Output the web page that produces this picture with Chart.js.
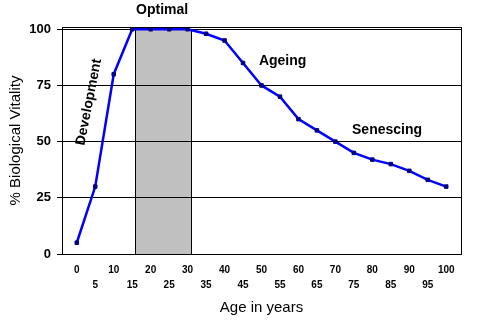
<!DOCTYPE html>
<html>
<head>
<meta charset="utf-8">
<script src="https://cdn.jsdelivr.net/npm/chart.js@4/dist/chart.umd.min.js"></script>
<style>
  html, body { margin: 0; padding: 0; background: #fff; }
  #wrap { width: 491px; height: 325px; }
</style>
</head>
<body>
<div id="wrap"><canvas id="chart" width="491" height="325"></canvas></div>
<script>
// ages (x) and vitality (%)
const ages = [0, 5, 10, 15, 20, 25, 30, 35, 40, 45, 50, 55, 60, 65, 70, 75, 80, 85, 90, 95, 100];
const vitality = [5, 30, 80, 100, 100, 100, 100, 98, 95, 85, 75, 70, 60, 55, 50, 45, 42, 40, 37, 33, 30];
const yTicks = [0, 25, 50, 75, 100];
// shaded "optimal" band, in years
const optimalBand = [15.7, 31];
// phase labels: [text, x (years), y (%), rotation in degrees, align]
const phaseLabels = [
    ['Optimal', 23.1, 108.6, 0, 'center'],
    ['Ageing', 49.3, 85.9, 0, 'left'],
    ['Senescing', 74.5, 55.2, 0, 'left'],
    ['Development', 3.3, 67.6, -79, 'center']
];

const fontFamily = '"Liberation Sans", Arial, sans-serif';

const bandPlugin = {
    id: 'band',
    beforeDraw(chart) {
        const { ctx, scales: { x, y } } = chart;
        const x0 = Math.round(x.getPixelForValue(optimalBand[0])) + 0.5;
        const x1 = Math.round(x.getPixelForValue(optimalBand[1])) + 0.5;
        const top = Math.round(y.getPixelForValue(100)) + 0.5;
        const bottom = Math.round(y.getPixelForValue(0)) + 0.5;
        ctx.save();
        ctx.fillStyle = '#c0c0c0';
        ctx.fillRect(x0, top, x1 - x0, bottom - top);
        ctx.strokeStyle = '#000';
        ctx.lineWidth = 1;
        ctx.strokeRect(x0, top, x1 - x0, bottom - top);
        ctx.restore();
    }
};

const framePlugin = {
    id: 'frame',
    afterDraw(chart) {
        const { ctx, chartArea: a, scales: { x, y } } = chart;
        ctx.save();
        ctx.strokeStyle = '#000';
        ctx.lineWidth = 1;
        ctx.strokeRect(Math.round(a.left) + 0.5, Math.round(a.top) + 0.5,
            Math.round(a.right - a.left), Math.round(a.bottom - a.top));

        ctx.fillStyle = '#000';
        ctx.font = 'bold 14px ' + fontFamily;
        ctx.textBaseline = 'middle';
        phaseLabels.forEach(([text, xv, yv, rot, align]) => {
            ctx.save();
            ctx.translate(x.getPixelForValue(xv), y.getPixelForValue(yv));
            ctx.rotate(rot * Math.PI / 180);
            ctx.textAlign = align;
            ctx.fillText(text, 0, 0);
            ctx.restore();
        });
        ctx.restore();
    }
};

new Chart(document.getElementById('chart'), {
    type: 'line',
    data: {
        datasets: [{
            data: ages.map((a, i) => ({ x: a, y: vitality[i] })),
            borderColor: '#0000ff',
            borderWidth: 2.5,
            pointStyle: 'rect',
            pointRadius: 2.5,
            pointBackgroundColor: '#000080',
            pointBorderColor: '#000080',
            pointBorderWidth: 1,
            tension: 0,
            fill: false
        }]
    },
    options: {
        responsive: false,
        animation: false,
        layout: { padding: { top: 27, right: 30, left: 0, bottom: 0 } },
        plugins: {
            legend: { display: false },
            tooltip: { enabled: false }
        },
        scales: {
            x: {
                type: 'linear',
                min: -4,
                max: 104,
                afterBuildTicks: axis => { axis.ticks = ages.map(v => ({ value: v })); },
                afterFit: axis => { axis.height = 71; },
                grid: { display: false, drawTicks: false },
                border: { display: true, color: '#000', width: 1 },
                ticks: {
                    autoSkip: false,
                    maxRotation: 0,
                    padding: 9,
                    color: '#000',
                    font: { family: fontFamily, size: 10, weight: 'bold', lineHeight: 1.5 },
                    callback: (v, i) => i % 2 === 0 ? [String(v), ''] : ['', String(v)]
                },
                title: {
                    display: true,
                    text: 'Age in years',
                    color: '#000',
                    font: { family: fontFamily, size: 15 },
                    padding: { top: 0, bottom: 8 }
                }
            },
            y: {
                min: 0,
                max: 101,
                afterBuildTicks: axis => { axis.ticks = yTicks.map(v => ({ value: v })); },
                afterFit: axis => { axis.width = 62; },
                grid: { color: '#000', lineWidth: 1, drawTicks: true, tickLength: 5 },
                border: { display: true, color: '#000', width: 1 },
                ticks: {
                    padding: 6,
                    color: '#000',
                    font: { family: fontFamily, size: 13, weight: 'bold' }
                },
                title: {
                    display: true,
                    text: '% Biological Vitality',
                    color: '#000',
                    font: { family: fontFamily, size: 15 },
                    padding: { top: 7, bottom: 0 }
                }
            }
        }
    },
    plugins: [bandPlugin, framePlugin]
});
</script>
</body>
</html>
